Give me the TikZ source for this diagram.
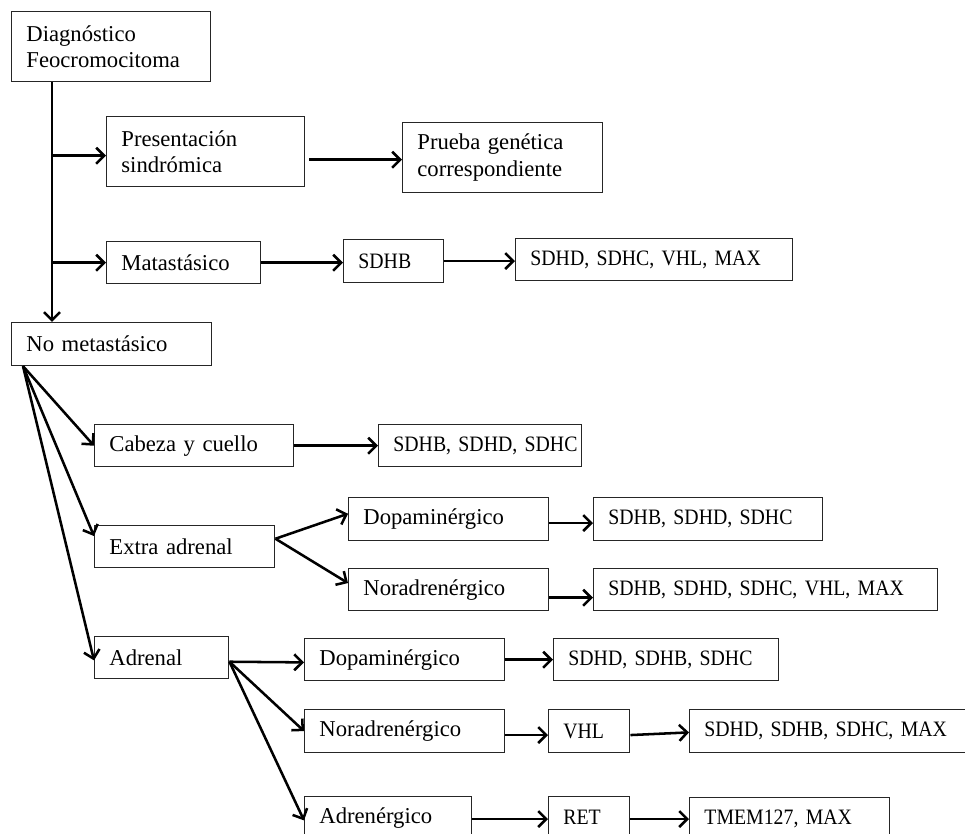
\documentclass[tikz,border=0pt]{standalone}
\usepackage{fontspec}
\setmainfont{Liberation Serif}
\newfontfamily\genefont[FakeStretch=0.9]{Liberation Serif}
\usetikzlibrary{arrows.meta}
\tikzset{
  box/.style={draw=black!85, line width=1.1pt, anchor=north west, align=left,
    inner xsep=11pt, inner ysep=0pt, font=\fontsize{17}{20}\selectfont},
  genes/.style={box, font=\genefont\fontsize{16.5}{20}\selectfont},
  arr/.style={line width=1.9pt, -{Straight Barb[length=6pt,width=12pt,line width=1.9pt]}},
}
\begin{document}
\begin{tikzpicture}[x=0.75pt,y=-0.75pt]
\useasboundingbox (0,0) rectangle (965,834);
\clip (0,0) rectangle (965,834);

% top level
\node[box, text width=127pt, minimum height=52.5pt] (diag) at (11,11) {Diagnóstico\\Feocromocitoma};
\node[box, text width=126.5pt, minimum height=52.5pt] (pres) at (106,116) {Presentación\\sindrómica};
\node[box, text width=128pt, minimum height=52.5pt] (prueba) at (402,122) {\mbox{Prueba genética}\\correspondiente};
\node[box, text width=93.5pt, minimum height=31.5pt] (matas) at (106,241) {Matastásico};
\node[genes, text width=53pt, minimum height=32pt] (sdhb) at (343,239) {SDHB};
\node[genes, text width=185.75pt, minimum height=31.5pt] (listA) at (515,238) {\mbox{SDHD, SDHC, VHL, MAX}};
\node[box, text width=128pt, minimum height=32pt] (nometa) at (11,322) {\mbox{No metastásico}};

% non metastatic branches
\node[box, text width=127pt, minimum height=31.5pt] (cabeza) at (94,424) {\mbox{Cabeza y cuello}};
\node[genes, text width=130pt, minimum height=31.5pt] (listB) at (378,424) {\mbox{SDHB, SDHD, SDHC}};
\node[box, text width=113pt, minimum height=31.5pt] (extra) at (94,525) {\mbox{Extra adrenal}};
\node[box, text width=128pt, minimum height=32pt] (dopA) at (348,497) {Dopaminérgico};
\node[box, text width=128pt, minimum height=31.5pt] (norA) at (348,568) {Noradrenérgico};
\node[genes, text width=149.75pt, minimum height=32pt] (listC) at (593,497) {\mbox{SDHB, SDHD, SDHC}};
\node[genes, text width=236pt, minimum height=31.5pt] (listD) at (593,568) {\mbox{SDHB, SDHD, SDHC, VHL, MAX}};
\node[box, text width=78.5pt, minimum height=31.5pt] (adrenal) at (94,636) {Adrenal};
\node[box, text width=128pt, minimum height=31.5pt] (dopB) at (304,638) {Dopaminérgico};
\node[box, text width=128pt, minimum height=32pt] (norB) at (304,709) {Noradrenérgico};
\node[box, text width=103.25pt, minimum height=31.5pt] (adren) at (304,796) {Adrenérgico};
\node[genes, text width=146.75pt, minimum height=31.5pt] (listE) at (553,638) {\mbox{SDHD, SDHB, SDHC}};
\node[genes, text width=38.75pt, minimum height=32pt] (vhl) at (548,709) {VHL};
\node[genes, text width=195.5pt, minimum height=32pt] (listF) at (689,709) {\mbox{SDHD, SDHB, SDHC, MAX}};
\node[genes, text width=38.75pt, minimum height=31.5pt] (ret) at (548,796) {RET};
\node[genes, text width=128pt, minimum height=31.5pt] (tmem) at (689,797) {\mbox{TMEM127, MAX}};

% main trunk
\coordinate (trunk) at ([xshift=30.75pt]diag.south west);
\draw[arr] (trunk) -- ([xshift=30.75pt]nometa.north west);
\draw[arr] ([yshift=-3pt]pres.west -| trunk) -- ([yshift=-3pt]pres.west);
\draw[arr] (matas.west -| trunk) -- (matas.west);
\draw[arr] ([xshift=3pt,yshift=-1.5pt]prueba.west -| pres.east) -- ([yshift=-1.5pt]prueba.west);
\draw[arr] (matas.east) -- (matas.east -| sdhb.west);
\draw[arr] (sdhb.east) -- (sdhb.east -| listA.west);

% fan from non metastatic
\coordinate (fan) at ([xshift=9pt]nometa.south west);
\draw[arr] (fan) -- (cabeza.west);
\draw[arr] (fan) -- ([yshift=8pt]extra.west);
\draw[arr] (fan) -- ([yshift=-2pt]adrenal.west);
\draw[arr] (cabeza.east) -- (cabeza.east -| listB.west);

% extra adrenal
\coordinate (ex) at ([yshift=6pt]extra.east);
\draw[arr] (ex) -- ([yshift=4pt]dopA.west);
\draw[arr] (ex) -- ([yshift=5pt]norA.west);
\draw[arr] ([yshift=-3pt]dopA.east) -- ([yshift=-3pt]dopA.east -| listC.west);
\draw[arr] ([yshift=-6pt]norA.east) -- ([yshift=-6pt]norA.east -| listD.west);

% adrenal
\coordinate (ad) at ([yshift=-3pt]adrenal.east);
\draw[arr] (ad) -- ([yshift=-2pt]dopB.west);
\draw[arr] (ad) -- (norB.west);
\draw[arr] (ad) -- ([yshift=-2pt]adren.west);
\draw[arr] (dopB.east) -- (dopB.east -| listE.west);
\draw[arr] ([yshift=-3pt]norB.east) -- ([yshift=-3pt]norB.east -| vhl.west);
\draw[arr] ([yshift=-3pt]vhl.east) -- ([yshift=-1pt]listF.west);
\draw[arr] ([yshift=-1pt]adren.east) -- ([yshift=-1pt]adren.east -| ret.west);
\draw[arr] ([yshift=-1pt]ret.east) -- ([yshift=-1pt]ret.east -| tmem.west);
\end{tikzpicture}
\end{document}
